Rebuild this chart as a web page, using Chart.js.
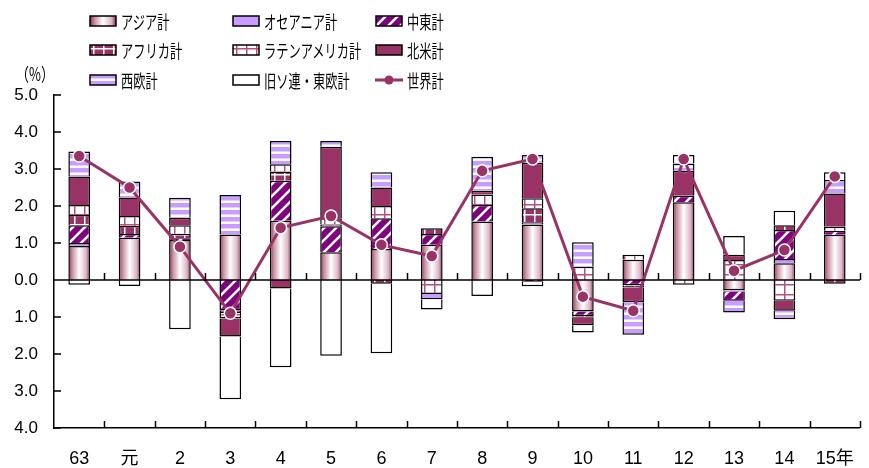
<!DOCTYPE html>
<html lang="ja">
<head>
<meta charset="utf-8">
<script src="https://cdn.jsdelivr.net/npm/chart.js@4/dist/chart.umd.min.js"></script>
<style>
  html, body { margin: 0; padding: 0; background: #fff; overflow: hidden; }
  #wrap { position: relative; width: 874px; height: 468px; }
  #chart { position: absolute; left: 0; top: 0; }
  .lg { position: absolute; height: 14px; display: flex; align-items: center; }
  .lg canvas { display: block; }
  .lg span {
    font-family: "Noto Sans CJK JP", sans-serif; font-size: 18px; color: #000;
    display: inline-block; transform: scaleX(0.68); transform-origin: left center;
    margin-left: 4px; white-space: nowrap; line-height: 14px;
  }
  #unit {
    position: absolute; left: 16px; top: 60px;
    font-family: "Noto Sans CJK JP", sans-serif; font-size: 18px;
    transform: scaleX(0.72); transform-origin: left center; white-space: nowrap;
  }
</style>
</head>
<body>
<div id="wrap">
  <canvas id="chart" width="874" height="468"></canvas>
  <div id="unit">（%）</div>
</div>
<script>
// years (昭和63, 平成元〜15年)
const labels = ['63', '元', '2', '3', '4', '5', '6', '7', '8', '9', '10', '11', '12', '13', '14', '15年'];

// contributions by region (%)
const asia     = [0.92, 1.14, 1.08, 1.23, 1.60, 0.75, 0.84, 0.95, 1.58, 1.50, -0.85, 0.55, 2.10, -0.28, 0.45, 1.22];
const oceania  = [0.08, null, null, null, null, null, null, null, null, 0.06, null, null, null, -0.03, 0.12, null];
const mideast  = [0.48, 0.10, 0.05, -0.82, 1.08, 0.70, 0.83, 0.29, 0.45, -0.05, -0.13, -0.14, 0.18, -0.25, 0.78, 0.11];
const africa   = [0.28, 0.22, 0.12, -0.07, 0.25, 0.05, -0.10, 0.16, null, 0.38, -0.04, -0.06, null, null, 0.13, -0.10];
const latam    = [0.27, 0.27, 0.23, -0.15, 0.20, 0.17, 0.33, -0.38, 0.28, 0.27, 0.36, 0.13, -0.13, 0.54, -0.56, 0.11];
const northAm  = [0.77, 0.50, 0.20, -0.49, -0.23, 1.93, 0.50, null, 0.10, 0.96, -0.20, -0.40, 0.67, 0.14, -0.27, 0.90];
const westEu   = [0.67, 0.43, 0.54, 1.07, 0.63, 0.16, 0.41, -0.14, 0.92, 0.21, 0.66, -0.88, 0.20, -0.32, -0.23, 0.36];
const ussrEast = [-0.13, -0.16, -1.33, -1.69, -2.13, -2.05, -1.88, -0.28, -0.43, -0.12, -0.20, null, 0.23, 0.51, 0.39, 0.21];
const world    = [3.35, 2.50, 0.90, -0.90, 1.41, 1.73, 0.95, 0.65, 2.95, 3.27, -0.45, -0.83, 3.27, 0.25, 0.81, 2.80];

const MAROON = '#993366';
const PURPLE = '#800080';
const LAVENDER = '#c99cff';
const BAR_FRAC = 0.43;

function makePattern(w, h, draw) {
  const c = document.createElement('canvas');
  c.width = w; c.height = h;
  const g = c.getContext('2d');
  draw(g, w, h);
  return g.createPattern(c, 'repeat');
}

const stripePattern = makePattern(12, 12, (g, w, h) => {
  g.fillStyle = PURPLE; g.fillRect(0, 0, w, h);
  g.strokeStyle = '#fff'; g.lineWidth = 2.6;
  g.beginPath();
  g.moveTo(0, h); g.lineTo(w, 0);
  g.moveTo(-w / 2, h / 2); g.lineTo(w / 2, -h / 2);
  g.moveTo(w / 2, h * 1.5); g.lineTo(w * 1.5, h / 2);
  g.stroke();
});

function gridPattern(bg, line) {
  return makePattern(10, 10, (g, w, h) => {
    g.fillStyle = bg; g.fillRect(0, 0, w, h);
    g.fillStyle = line;
    g.fillRect(4, 0, 1.5, h);
    g.fillRect(0, 4, w, 1.5);
  });
}
const africaPattern = gridPattern(MAROON, '#fff');
const latamPattern = gridPattern('#fff', '#b5507f');

const westPattern = makePattern(4, 7, (g, w, h) => {
  g.fillStyle = '#fff'; g.fillRect(0, 0, w, h);
  g.fillStyle = LAVENDER; g.fillRect(0, 0, w, 4);
  g.fillStyle = '#e3cfff'; g.fillRect(0, 4, w, 1);
});

function asiaGradient(g, x0, x1) {
  const gr = g.createLinearGradient(x0, 0, x1, 0);
  gr.addColorStop(0, '#8e2e5e');
  gr.addColorStop(0.18, '#c8909f');
  gr.addColorStop(0.5, '#ffffff');
  gr.addColorStop(0.82, '#dcb6c6');
  gr.addColorStop(1, '#8e2e5e');
  return gr;
}

function asiaFill(ctx) {
  const chart = ctx.chart;
  const xs = chart.scales.x;
  if (!xs || !chart.chartArea) return '#e6c8d5';
  const cx = xs.getPixelForValue(ctx.dataIndex);
  const half = xs.width / labels.length * BAR_FRAC / 2;
  return asiaGradient(chart.ctx, cx - half, cx + half);
}

const regions = [
  { name: 'アジア計', data: asia, fill: asiaFill },
  { name: 'オセアニア計', data: oceania, fill: LAVENDER },
  { name: '中東計', data: mideast, fill: stripePattern },
  { name: 'アフリカ計', data: africa, fill: africaPattern },
  { name: 'ラテンアメリカ計', data: latam, fill: latamPattern },
  { name: '北米計', data: northAm, fill: MAROON },
  { name: '西欧計', data: westEu, fill: westPattern },
  { name: '旧ソ連・東欧計', data: ussrEast, fill: '#ffffff' }
];

const datasets = regions.map(r => ({
  type: 'bar',
  label: r.name,
  data: r.data,
  backgroundColor: r.fill,
  borderColor: '#000',
  borderWidth: 1.5,
  stack: 'regions',
  order: 1,
  barPercentage: BAR_FRAC,
  categoryPercentage: 1
}));

datasets.push({
  type: 'line',
  label: '世界計',
  data: world,
  borderColor: MAROON,
  borderWidth: 3,
  pointRadius: 6,
  pointBackgroundColor: MAROON,
  pointBorderColor: '#fff',
  pointBorderWidth: 1.5,
  stack: 'world',
  order: 0,
  tension: 0
});

// axis lines and inward tick marks
const axisDecor = {
  id: 'axisDecor',
  afterDatasetsDraw(chart) {
    const g = chart.ctx;
    const area = chart.chartArea;
    const xs = chart.scales.x, ys = chart.scales.y;
    const y0 = ys.getPixelForValue(0);
    const step = xs.width / labels.length;
    g.save();
    g.strokeStyle = '#000';
    g.lineWidth = 1.5;
    g.beginPath();
    g.moveTo(area.left, y0); g.lineTo(area.right, y0);
    for (let i = 1; i <= labels.length; i++) {
      const x = Math.round(area.left + i * step) + 0.5;
      g.moveTo(x, y0); g.lineTo(x, y0 - 7);
      g.moveTo(x, area.bottom); g.lineTo(x, area.bottom - 7);
    }
    for (let v = -4; v <= 5; v++) {
      const y = ys.getPixelForValue(v);
      g.moveTo(area.left, y); g.lineTo(area.left + 7, y);
    }
    g.stroke();
    g.restore();
  }
};

new Chart(document.getElementById('chart'), {
  data: { labels: labels, datasets: datasets },
  plugins: [axisDecor],
  options: {
    responsive: false,
    animation: false,
    layout: { padding: { top: 95, left: 0, right: 1, bottom: 0 } },
    plugins: {
      legend: { display: false },
      tooltip: { enabled: false }
    },
    scales: {
      x: {
        stacked: true,
        grid: { display: false, drawTicks: false },
        border: { display: true, color: '#000', width: 1.5 },
        ticks: {
          color: '#000',
          padding: 20,
          maxRotation: 0,
          autoSkip: false,
          font: { family: '"Liberation Sans", "Noto Sans CJK JP", sans-serif', size: 18 }
        },
        afterFit(scale) { scale.height = 40; }
      },
      y: {
        stacked: true,
        min: -4,
        max: 5,
        grid: { display: false, drawTicks: false },
        border: { display: true, color: '#000', width: 1.5 },
        ticks: {
          stepSize: 1,
          color: '#000',
          padding: 16,
          font: { family: '"Liberation Sans", sans-serif', size: 17 },
          callback: v => Math.abs(v).toFixed(1)
        },
        afterFit(scale) { scale.width = 54; }
      }
    }
  }
});

// legend (3 x 3 grid above the plot)
const legendCols = [89, 232, 375];
const legendRows = [14, 43, 73];
const wrap = document.getElementById('wrap');

function addLegend(i, text, paint) {
  const item = document.createElement('div');
  item.className = 'lg';
  item.style.left = legendCols[i % 3] + 'px';
  item.style.top = legendRows[Math.floor(i / 3)] + 'px';
  const c = document.createElement('canvas');
  c.width = 28; c.height = 12;
  paint(c.getContext('2d'), 28, 12);
  const s = document.createElement('span');
  s.textContent = text;
  item.appendChild(c);
  item.appendChild(s);
  wrap.appendChild(item);
}

regions.forEach((r, i) => {
  addLegend(i, r.name, (g, w, h) => {
    g.fillStyle = typeof r.fill === 'function' ? asiaGradient(g, 1, w - 1) : r.fill;
    g.fillRect(1, 1, w - 2, h - 2);
    g.strokeStyle = '#000';
    g.lineWidth = 1.5;
    g.strokeRect(1, 1, w - 2, h - 2);
  });
});

addLegend(8, '世界計', (g, w, h) => {
  g.strokeStyle = MAROON;
  g.lineWidth = 3;
  g.beginPath(); g.moveTo(0, h / 2); g.lineTo(w, h / 2); g.stroke();
  g.fillStyle = MAROON;
  g.beginPath(); g.arc(w / 2, h / 2, 4.5, 0, Math.PI * 2); g.fill();
});
</script>
</body>
</html>
